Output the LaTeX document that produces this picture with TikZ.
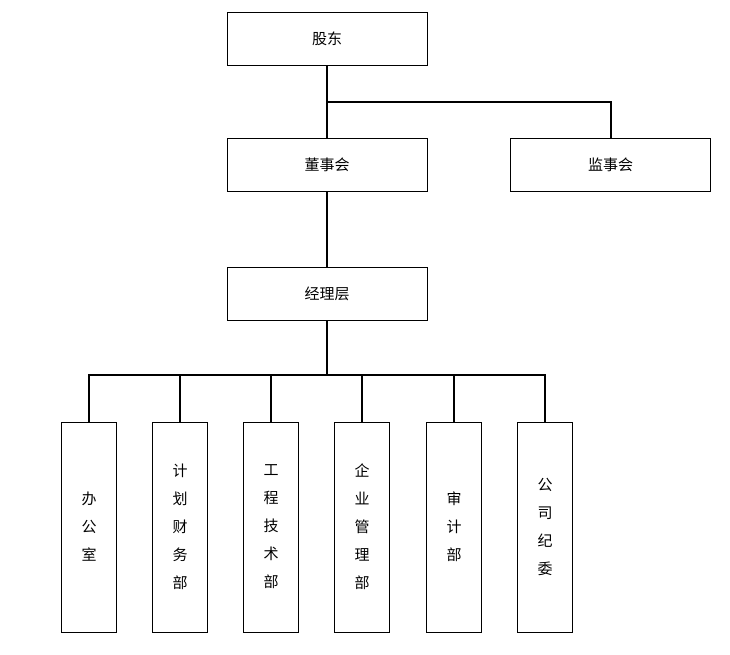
\documentclass[tikz,border=0pt]{standalone}
\usepackage{fontspec}
\newfontfamily\cjk{Noto Sans CJK SC}
\begin{document}
\begin{tikzpicture}[x=1pt,y=-1pt,
  box/.style={draw,line width=1pt,minimum width=200pt,minimum height=53pt,inner sep=0pt,font=\cjk\fontsize{15}{15}\selectfont},
  vbox/.style={draw,line width=1pt,minimum width=55pt,minimum height=210pt,inner sep=0pt,font=\cjk\fontsize{15}{28}\selectfont,align=center},
  link/.style={line width=2pt}]
\useasboundingbox (0,0) rectangle (730,654);
\node[box] (gd) at (327,38.5) {股东};
\node[box] (dsh) at (327,165) {董事会};
\node[box] (jsh) at (610.5,165) {监事会};
\node[box] (jlc) at (327,293.5) {经理层};
\foreach \n/\x/\t in {a/89/办\\公\\室, b/180/计\\划\\财\\务\\部, c/271/工\\程\\技\\术\\部, d/362/企\\业\\管\\理\\部, e/454/审\\计\\部, f/545/公\\司\\纪\\委}
  \node[vbox] (\n) at (\x,527) {\t};
\coordinate (j1) at (327,102);
\coordinate (j2) at (610.5,102);
\draw[link] (gd.south) -- (dsh.north);
\draw[link] (j1) -- (j2) -- (jsh.north);
\draw[link] (dsh.south) -- (jlc.north);
\coordinate (bus) at (327,375);
\draw[link] (jlc.south) -- (bus);
\draw[link] (a.north) |- (bus) -| (f.north);
\foreach \n in {b,c,d,e} \draw[link] (\n.north) -- (\n.north |- bus);
\end{tikzpicture}
\end{document}
